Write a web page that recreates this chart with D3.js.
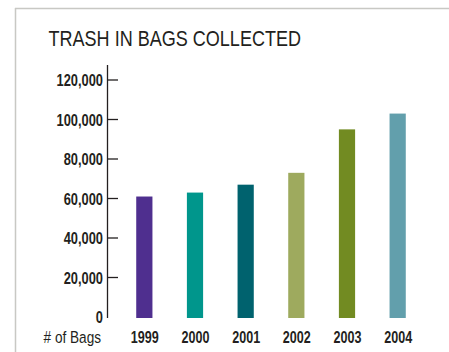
<!DOCTYPE html>
<html>
<head>
<meta charset="utf-8">
<script src="https://cdn.jsdelivr.net/npm/d3@7"></script>
<style>
  html, body { margin: 0; padding: 0; background: #fff; }
  svg { display: block; }
  text { font-family: "Liberation Sans", Arial, sans-serif; fill: #231f20; }
</style>
</head>
<body>
<script>
const years = ["1999", "2000", "2001", "2002", "2003", "2004"];
const bags = [61000, 63000, 67000, 73000, 95000, 103000];
const barColors = ["#4f2f8f", "#00968c", "#00626e", "#9eaa5e", "#728b22", "#629fac"];
const tickValues = [0, 20000, 40000, 60000, 80000, 100000, 120000];

const W = 449, H = 352;
const svg = d3.select("body").append("svg").attr("width", W).attr("height", H);

// condensed text: horizontally squeezed glyphs anchored at (x, y)
function narrowText(sel, x, y, sx) {
  return sel.append("text")
    .attr("transform", `translate(${x},${y}) scale(${sx},1)`);
}

// panel frame: top and left rules
svg.append("line").attr("x1", 15).attr("x2", W).attr("y1", 8.5).attr("y2", 8.5)
  .attr("stroke", "#c8c8c4").attr("stroke-width", 1.5);
svg.append("line").attr("x1", 15.5).attr("x2", 15.5).attr("y1", 8).attr("y2", H)
  .attr("stroke", "#c8c8c4").attr("stroke-width", 1.5);

narrowText(svg, 48.5, 46, 0.82)
  .style("font-size", "22px")
  .text("TRASH IN BAGS COLLECTED");

const y = d3.scaleLinear().domain([0, 120000]).range([317, 80]);
const x = d3.scaleBand().domain(years).range([119, 423]).paddingInner(0.68).paddingOuter(0.34);

// value axis
const axisX = 107;
const yAxis = svg.append("g").attr("transform", `translate(${axisX},0)`);
yAxis.append("line").attr("x1", 0.5).attr("x2", 0.5).attr("y1", 65).attr("y2", 318)
  .attr("stroke", "#231f20").attr("stroke-width", 1.3);
yAxis.selectAll("line.tick").data(tickValues.filter(d => d > 0)).enter().append("line")
  .attr("class", "tick")
  .attr("x1", 0.5).attr("x2", 11).attr("y1", d => y(d)).attr("y2", d => y(d))
  .attr("stroke", "#231f20").attr("stroke-width", 1.3);
tickValues.forEach(v => {
  narrowText(yAxis, -4, y(v) + 6, 0.78)
    .attr("text-anchor", "end")
    .style("font-size", "16.5px").style("font-weight", "bold")
    .text(d3.format(",")(v));
});

// bars
svg.selectAll("rect.bar").data(years).enter().append("rect")
  .attr("class", "bar")
  .attr("x", d => x(d))
  .attr("width", x.bandwidth())
  .attr("y", (d, i) => y(bags[i]))
  .attr("height", (d, i) => y(0) - y(bags[i]) + 1)
  .attr("fill", (d, i) => barColors[i]);

// category labels
years.forEach(yr => {
  narrowText(svg, x(yr) + x.bandwidth() / 2 + 0.5, 343, 0.74)
    .attr("text-anchor", "middle")
    .style("font-size", "17px").style("font-weight", "bold")
    .text(yr);
});

narrowText(svg, 101, 343, 0.8)
  .attr("text-anchor", "end")
  .style("font-size", "17px")
  .text("# of Bags");
</script>
</body>
</html>
